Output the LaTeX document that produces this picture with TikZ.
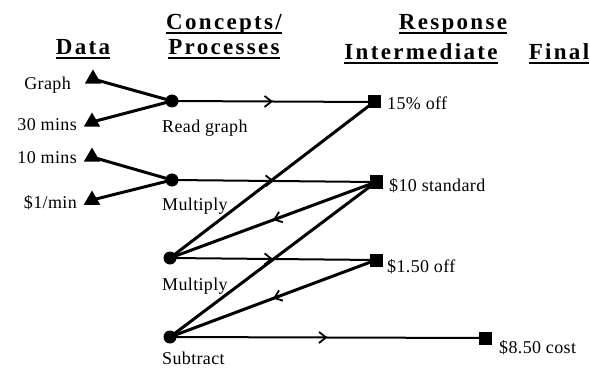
\documentclass[tikz,border=0pt]{standalone}
\usepackage{fontspec}
\setmainfont{Liberation Serif}
\newfontfamily\hdfont[LetterSpace=10]{Liberation Serif}
\newfontfamily\bdfont[LetterSpace=2]{Liberation Serif}
\usetikzlibrary{shapes.geometric,decorations.markings,arrows.meta}
\newcommand\hdul[1]{\setbox0=\hbox{#1}\rlap{\rule[-4pt]{\wd0}{1.8pt}}\box0}
\tikzset{
  dot/.style={circle,fill,inner sep=0,minimum size=13pt},
  sq/.style={rectangle,fill,inner sep=0,minimum size=13pt},
  tri/.style={regular polygon,regular polygon sides=3,fill,inner sep=0,minimum size=19pt},
  lbl/.style={font=\bdfont\fontsize{18}{20}\selectfont,inner sep=0},
  hd/.style={font=\hdfont\bfseries\fontsize{23}{25}\selectfont,inner sep=0},
  hline/.style={line width=2pt},
  dline/.style={line width=3pt},
  midarrow/.style={postaction={decorate},decoration={markings,mark=at position 0.5 with {\arrow{Straight Barb[length=7pt,width=11pt,line width=1.8pt]}}}}
}
\begin{document}
\begin{tikzpicture}[x=1pt,y=-1pt]
\useasboundingbox[fill=white] (0,0) rectangle (590,369);
% headers
\node[hd,anchor=base] (hdata) at (83,55) {\hdul{Data}};
\node[hd,anchor=base] (hcon) at (224,30) {\hdul{Concepts/}};
\node[hd,anchor=base] (hproc) at (224,55) {\hdul{Processes}};
\node[hd,anchor=base] (hresp) at (453,30) {\hdul{Response}};
\node[hd,anchor=base] (hint) at (421,60) {\hdul{Intermediate}};
\node[hd,anchor=base] (hfin) at (559,60) {\hdul{Final}};
% data triangles
\node[tri] (tgraph) at (93,79) {};
\node[tri] (t30) at (92,122) {};
\node[tri] (t10) at (92,157) {};
\node[tri] (t1) at (92,200) {};
\node[lbl,anchor=base east] (lgraph) at (71,90) {Graph};
\node[lbl,anchor=base east] (l30) at (77,131) {30 mins};
\node[lbl,anchor=base east] (l10) at (77,164) {10 mins};
\node[lbl,anchor=base east] (l1) at (77,208) {\$1/min};
% process circles
\node[dot] (cread) at (172,101) {};
\node[dot] (cmul1) at (172,180) {};
\node[dot] (cmul2) at (170,258) {};
\node[dot] (csub) at (170,337) {};
\node[lbl,anchor=base west] (lread) at (162,133) {Read graph};
\node[lbl,anchor=base west] (lmul1) at (162,211) {Multiply};
\node[lbl,anchor=base west] (lmul2) at (162,290) {Multiply};
\node[lbl,anchor=base west] (lsub) at (162,364) {Subtract};
% response squares
\node[sq] (s15) at (374,102) {};
\node[sq] (s10) at (376,182) {};
\node[sq] (s150) at (376,260) {};
\node[sq] (s850) at (485,338) {};
\node[lbl,anchor=base west] (l15) at (387,110) {15\% off};
\node[lbl,anchor=base west] (l10s) at (389,191) {\$10 standard};
\node[lbl,anchor=base west] (l150) at (387,272) {\$1.50 off};
\node[lbl,anchor=base west] (l850) at (499,353) {\$8.50 cost};
% connectors
\draw[dline] (tgraph.center) -- (cread.center);
\draw[dline] (t30.center) -- (cread.center);
\draw[dline] (t10.center) -- (cmul1.center);
\draw[dline] (t1.center) -- (cmul1.center);
\draw[hline,midarrow] (cread.center) -- (s15.center);
\draw[hline,midarrow] (cmul1.center) -- (s10.center);
\draw[dline] (cmul2.center) -- (s15.center);
\draw[dline,midarrow] (s10.center) -- (cmul2.center);
\draw[hline,midarrow] (cmul2.center) -- (s150.center);
\draw[dline] (csub.center) -- (s10.center);
\draw[dline,midarrow] (s150.center) -- (csub.center);
\draw[hline,midarrow] (csub.center) -- (s850.center);
\end{tikzpicture}
\end{document}
